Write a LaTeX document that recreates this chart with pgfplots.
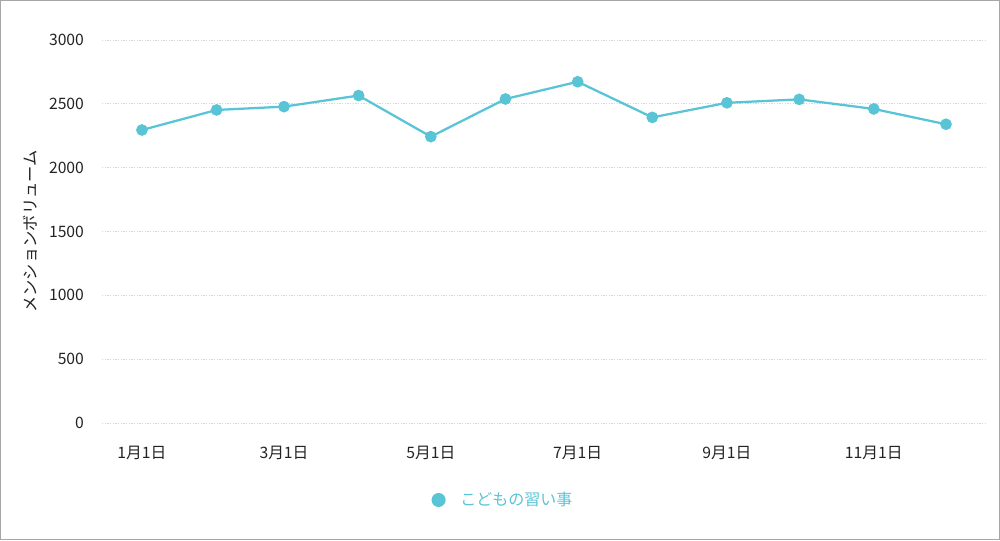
\documentclass[border=0pt]{standalone}
\usepackage{fontspec}
\setmainfont{Noto Sans CJK JP}
\usepackage{pgfplots}
\pgfplotsset{compat=1.18}
\definecolor{lineteal}{RGB}{88,196,214}
\definecolor{gridgray}{RGB}{215,215,215}
\definecolor{txt}{RGB}{35,35,35}
\begin{document}
\begin{tikzpicture}
\begin{axis}[
  at={(76.5pt,87.75pt)}, anchor=south west,
  scale only axis, width=662.25pt, height=287.25pt,
  xmin=-16.6, xmax=350.2, ymin=0, ymax=3000,
  xtick={0,59,120,181,243,304},
  xticklabels={1月1日,3月1日,5月1日,7月1日,9月1日,11月1日},
  ytick={0,500,1000,1500,2000,2500,3000},
  ymajorgrids,
  grid style={gridgray, line width=0.6pt, dash pattern=on 1pt off 1pt},
  axis line style={draw=none},
  tick style={draw=none},
  font=\fontsize{11.8pt}{13pt}\selectfont\color{txt},
  /pgf/number format/assume math mode=true,
  /pgf/number format/1000 sep={},
  yticklabel style={xshift=-10pt},
  xticklabel style={yshift=-14pt},
  ylabel={メンションボリューム},
  ylabel style={at={(axis description cs:-0.0815,0.5)}, anchor=center, font=\fontsize{12.2pt}{13pt}\selectfont\color{txt}},
  legend style={at={(axis description cs:0.4545,-0.201)}, anchor=center, draw=none, fill=none,
    font=\fontsize{12pt}{13pt}\selectfont\color{lineteal}},
  legend image code/.code={\fill[lineteal] (0.25cm,0) circle (4.4pt);\path (0.25cm+13.5pt,0);},
]
\addplot[lineteal, line width=1.7pt, mark=*, mark size=3.5pt, mark options={fill=lineteal, draw=lineteal}]
coordinates {
(0,2295) (31,2452) (59,2478) (90,2565) (120,2243) (151,2538)
(181,2673) (212,2394) (243,2508) (273,2535) (304,2460) (334,2340)
};
\addlegendentry{こどもの習い事}
\end{axis}
\draw[gray!70, line width=1pt] (0.5pt,0.5pt) rectangle (749.5pt,404.5pt);
\pgfresetboundingbox
\useasboundingbox (0,0) rectangle (750pt,405pt);
\end{tikzpicture}
\end{document}
